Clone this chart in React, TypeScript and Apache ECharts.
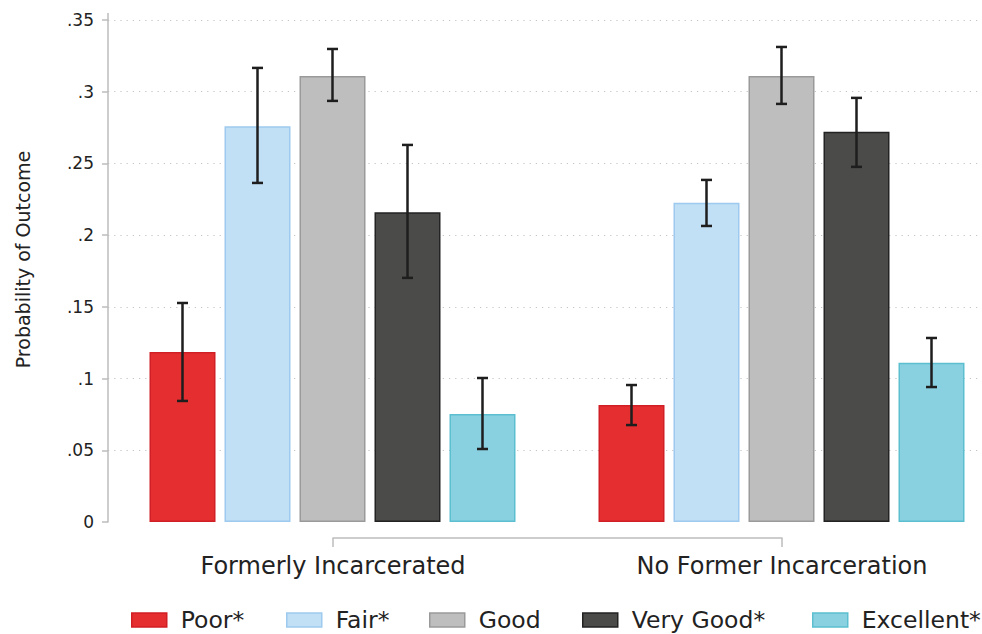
import React, { useEffect, useRef } from 'react';
import * as echarts from 'echarts';

const groups = ['Formerly Incarcerated', 'No Former Incarceration'];
const healthLevels = ['Poor*', 'Fair*', 'Good', 'Very Good*', 'Excellent*'];

// Probability per health level, [Formerly Incarcerated, No Former Incarceration]
const poor = [0.1185, 0.0816];
const fair = [0.276, 0.2225];
const good = [0.311, 0.311];
const veryGood = [0.216, 0.272];
const excellent = [0.0753, 0.111];

// Confidence intervals [low, high]
const poorCI = [[0.0844, 0.1527], [0.0676, 0.0955]];
const fairCI = [[0.2364, 0.3166], [0.2064, 0.2385]];
const goodCI = [[0.2936, 0.3298], [0.2915, 0.3312]];
const veryGoodCI = [[0.1702, 0.2629], [0.2476, 0.2957]];
const excellentCI = [[0.0509, 0.1004], [0.0941, 0.1283]];

const yTickLabels = ['0', '.05', '.1', '.15', '.2', '.25', '.3', '.35'];

const values = [poor, fair, good, veryGood, excellent];
const cis = [poorCI, fairCI, goodCI, veryGoodCI, excellentCI];
const fills = ['#e52e2f', '#c1dff5', '#bebebe', '#4b4b49', '#89d0e1'];
const borders = ['#d11f26', '#9dcaee', '#9a9a9a', '#232323', '#5bbfd0'];
const legendLeft = [131, 286, 429, 582, 812];

const FONT = 'DejaVu Sans';
const BAR_W = 66;
const BAR_GAP = 9;
const AXIS_GREY = '#bdbdbd';

export default function App() {
  const ref = useRef<HTMLDivElement>(null);
  useEffect(() => {
    if (!ref.current) return;
    const chart = echarts.init(ref.current, undefined, { renderer: 'svg' });

    const barSeries = healthLevels.map((name, k) => ({
      type: 'bar',
      name,
      xAxisIndex: 0,
      yAxisIndex: 0,
      data: values[k],
      barWidth: BAR_W,
      barGap: `${(BAR_GAP / BAR_W) * 100}%`,
      itemStyle: { color: fills[k], borderColor: borders[k], borderWidth: 1.5 },
      emphasis: { disabled: true },
    }));

    const errData: number[][] = [];
    cis.forEach((ci, k) => {
      ci.forEach((pair, g) => errData.push([g, pair[0], pair[1], k]));
    });

    const errSeries = {
      type: 'custom',
      xAxisIndex: 0,
      yAxisIndex: 0,
      data: errData,
      encode: { x: 0, y: [1, 2] },
      z: 5,
      clip: false,
      renderItem: (params: any, api: any) => {
        const g = api.value(0);
        const lo = api.value(1);
        const hi = api.value(2);
        const k = api.value(3);
        const pLo = api.coord([g, lo]);
        const pHi = api.coord([g, hi]);
        const x = pLo[0] + (k - 2) * (BAR_W + BAR_GAP);
        const cap = 5.5;
        const style = { stroke: '#1e1e1e', lineWidth: 2.5, fill: 'none' };
        return {
          type: 'group',
          children: [
            { type: 'line', shape: { x1: x, y1: pLo[1], x2: x, y2: pHi[1] }, style },
            { type: 'line', shape: { x1: x - cap, y1: pHi[1], x2: x + cap, y2: pHi[1] }, style },
            { type: 'line', shape: { x1: x - cap, y1: pLo[1], x2: x + cap, y2: pLo[1] }, style },
          ],
        };
      },
    };

    const legends = healthLevels.map((name, k) => ({
      data: [name],
      left: legendLeft[k],
      top: 608,
      padding: 0,
      itemWidth: 35,
      itemHeight: 14,
      icon: 'rect',
      selectedMode: false,
      itemStyle: { borderWidth: 1.5 },
      textStyle: { fontFamily: FONT, fontSize: 23.5, color: '#222', padding: [0, 0, 0, 9] },
    }));

    chart.setOption({
      animation: false,
      textStyle: { fontFamily: FONT },
      grid: [
        { left: 108, top: 20, width: 898, height: 502 },
        { left: 333, top: 537, width: 449, height: 1 },
      ],
      xAxis: [
        { type: 'category', gridIndex: 0, data: groups, show: false },
        {
          type: 'category',
          gridIndex: 1,
          data: groups,
          boundaryGap: false,
          position: 'bottom',
          axisLine: { show: true, lineStyle: { color: AXIS_GREY, width: 1.5 } },
          axisTick: { show: true, length: 9, lineStyle: { color: AXIS_GREY, width: 1.5 } },
          axisLabel: { interval: 0, fontFamily: FONT, fontSize: 24, color: '#222', margin: 16 },
          splitLine: { show: false },
        },
      ],
      yAxis: [
        {
          type: 'value',
          gridIndex: 0,
          min: 0,
          max: 0.35,
          interval: 0.05,
          name: 'Probability of Outcome',
          nameLocation: 'middle',
          nameGap: 76,
          nameTextStyle: { fontFamily: FONT, fontSize: 19, color: '#222', padding: [0, 0, 0, 23] },
          axisLine: { show: true, lineStyle: { color: AXIS_GREY, width: 1.5 } },
          axisTick: { show: true, length: 6, lineStyle: { color: AXIS_GREY, width: 1.5 } },
          axisLabel: {
            fontFamily: FONT,
            fontSize: 17,
            color: '#222',
            margin: 14,
            formatter: (v: number) => yTickLabels[Math.round(v / 0.05)] ?? '',
          },
          splitLine: {
            show: true,
            showMinLine: false,
            lineStyle: { color: '#c4c4c4', width: 1.2, type: [1.2, 5] },
          },
        },
        { type: 'value', gridIndex: 1, show: false },
      ],
      legend: legends,
      graphic: [
        {
          type: 'line',
          shape: { x1: 108, y1: 13, x2: 108, y2: 20 },
          style: { stroke: AXIS_GREY, lineWidth: 1.5 },
        },
      ],
      series: [...barSeries, errSeries],
    });

    return () => chart.dispose();
  }, []);

  return (
    <div style={{ position: 'fixed', left: 0, top: 0, width: 982, height: 634, overflow: 'hidden', background: '#fff' }}>
      <div ref={ref} style={{ position: 'absolute', left: 0, top: 0, width: 1012, height: 634 }} />
    </div>
  );
}
